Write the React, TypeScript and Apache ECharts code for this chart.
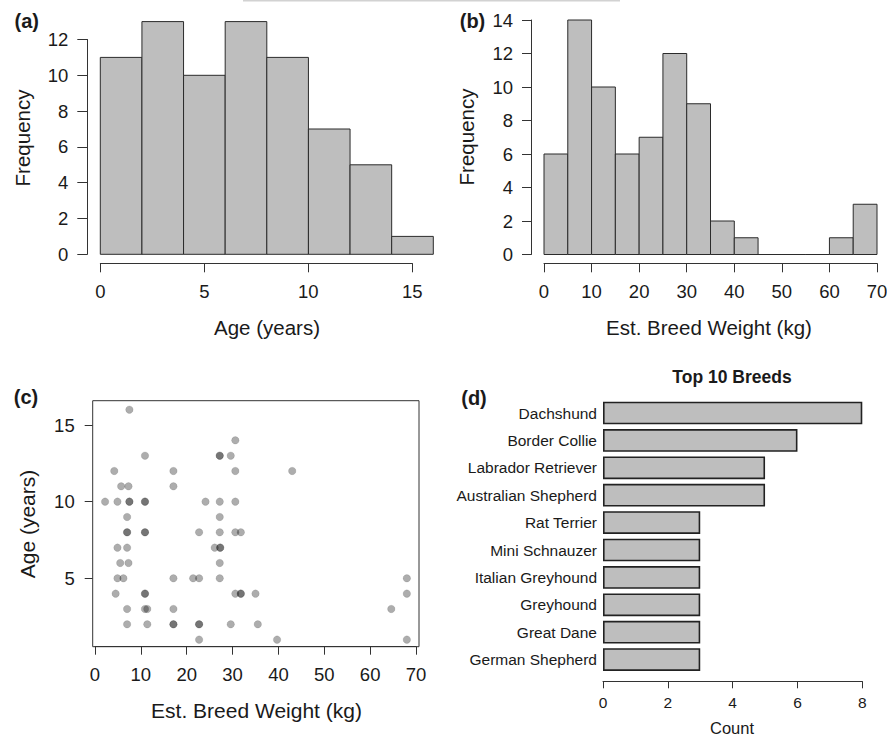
import React, { useEffect, useRef } from 'react';
import * as echarts from 'echarts';

// ---------- data ----------
const ageBreaks = [0, 2, 4, 6, 8, 10, 12, 14, 16];
const ageCounts = [11, 13, 10, 13, 11, 7, 5, 1];

const weightBreaks = [0, 5, 10, 15, 20, 25, 30, 35, 40, 45, 50, 55, 60, 65, 70];
const weightCounts = [6, 14, 10, 6, 7, 12, 9, 2, 1, 0, 0, 0, 1, 3];

// scatter: estimated breed weight (kg) vs age (years), paired by index
const scatterWeight = [
  7.5,
  30.6,
  10.9, 27.2, 27.2, 29.6,
  4.2, 17.1, 30.6, 43.0,
  5.7, 7.3, 17.1,
  2.2, 4.9, 7.5, 7.5, 10.9, 10.9, 24.1, 27.2, 30.6,
  7.0, 27.2,
  7.0, 7.0, 10.9, 10.9, 22.7, 27.2, 30.6, 31.8,
  4.9, 7.0, 26.1, 27.3, 27.3,
  5.5, 7.3, 27.2,
  4.9, 6.2, 17.1, 21.4, 22.7, 27.2, 68.0,
  4.5, 10.9, 10.9, 30.6, 31.8, 31.8, 35.0, 68.0,
  7.0, 10.9, 11.4, 17.1, 64.6,
  7.0, 11.4, 17.1, 17.1, 22.7, 22.7, 29.6, 35.5,
  22.7, 39.7, 68.0,
];
const scatterAge = [
  16,
  14,
  13, 13, 13, 13,
  12, 12, 12, 12,
  11, 11, 11,
  10, 10, 10, 10, 10, 10, 10, 10, 10,
  9, 9,
  8, 8, 8, 8, 8, 8, 8, 8,
  7, 7, 7, 7, 7,
  6, 6, 6,
  5, 5, 5, 5, 5, 5, 5,
  4, 4, 4, 4, 4, 4, 4, 4,
  3, 3, 3, 3, 3,
  2, 2, 2, 2, 2, 2, 2, 2,
  1, 1, 1,
];

const breeds = [
  'Dachshund',
  'Border Collie',
  'Labrador Retriever',
  'Australian Shepherd',
  'Rat Terrier',
  'Mini Schnauzer',
  'Italian Greyhound',
  'Greyhound',
  'Great Dane',
  'German Shepherd',
];
const breedCounts = [8, 6, 5, 5, 3, 3, 3, 3, 3, 3];

// ---------- styling ----------
const FONT = 'Liberation Sans, Arial, Helvetica, sans-serif';
const INK = '#1a1a1a';
const AXIS = '#333333';
const BAR_FILL = '#bebebe';
const BAR_EDGE = '#2b2b2b';

const histRender = (params: any, api: any) => {
  const x0 = api.value(0);
  const x1 = api.value(1);
  const c = api.value(2);
  const tl = api.coord([x0, c]);
  const br = api.coord([x1, 0]);
  return {
    type: 'rect',
    shape: { x: tl[0], y: tl[1], width: br[0] - tl[0], height: br[1] - tl[1] },
    style: { fill: BAR_FILL, stroke: BAR_EDGE, lineWidth: 1 },
  };
};

const hiddenAxis = (gridIndex: number, min: number, max: number) => ({
  gridIndex,
  type: 'value',
  show: false,
  min,
  max,
});

const tickAxis = (
  gridIndex: number,
  min: number,
  max: number,
  interval: number,
  position: string,
  opts: any = {}
) => ({
  gridIndex,
  type: 'value',
  position,
  min,
  max,
  interval,
  axisLine: { show: opts.line !== false, lineStyle: { color: AXIS, width: 1 } },
  axisTick: { show: true, inside: false, length: opts.tickLen ?? 9, lineStyle: { color: AXIS, width: 1 } },
  axisLabel: {
    show: true,
    margin: opts.margin ?? 19,
    fontSize: opts.fontSize ?? 18.5,
    fontFamily: FONT,
    color: INK,
    showMinLabel: true,
    showMaxLabel: true,
  },
  splitLine: { show: false },
});

const grid = (left: number, top: number, width: number, height: number, extra: any = {}) => ({
  left,
  top,
  width,
  height,
  outerBoundsMode: 'none',
  containLabel: false,
  ...extra,
});

const label = (text: string, x: number, y: number, size: number, bold = false, rotate = false) => ({
  type: 'text',
  x,
  y,
  rotation: rotate ? Math.PI / 2 : 0,
  style: {
    text,
    fill: INK,
    font: `${bold ? 'bold ' : ''}${size}px ${FONT}`,
    align: 'center',
    verticalAlign: 'middle',
  },
  silent: true,
});

export default function App() {
  const ref = useRef<HTMLDivElement>(null);

  useEffect(() => {
    document.body.style.margin = '0';
    if (!ref.current) return;
    const chart = echarts.init(ref.current, undefined, { renderer: 'svg' });

    const ageData = ageCounts.map((c, i) => [ageBreaks[i], ageBreaks[i + 1], c]);
    const weightData = weightCounts.map((c, i) => [weightBreaks[i], weightBreaks[i + 1], c]);
    const scatterData = scatterWeight.map((w, i) => [w, scatterAge[i]]);

    const option: any = {
      animation: false,
      backgroundColor: '#ffffff',
      textStyle: { fontFamily: FONT },
      grid: [
        grid(100.3, 21.6, 333, 232.7), // 0 (a) data
        grid(100.3, 262.3, 312, 1), // 1 (a) x axis
        grid(87.3, 39.5, 1, 214.8), // 2 (a) y axis
        grid(544, 20, 333, 234.5), // 3 (b) data
        grid(544, 262.3, 333, 1), // 4 (b) x axis
        grid(531, 20, 1, 234.5), // 5 (b) y axis
        grid(92.7, 400.7, 326.3, 246, { show: true, borderColor: AXIS, borderWidth: 1, backgroundColor: 'transparent' }), // 6 (c) data
        grid(95, 645.7, 321, 1), // 7 (c) x axis
        grid(92.7, 425, 1, 153.3), // 8 (c) y axis
        grid(603, 399.3, 259.3, 274), // 9 (d)
      ],
      xAxis: [
        hiddenAxis(0, 0, 16),
        tickAxis(1, 0, 15, 5, 'bottom'),
        hiddenAxis(2, 0, 1),
        hiddenAxis(3, 0, 70),
        tickAxis(4, 0, 70, 10, 'bottom'),
        hiddenAxis(5, 0, 1),
        hiddenAxis(6, -0.5, 70.65),
        tickAxis(7, 0, 70, 10, 'bottom', { tickLen: 8, margin: 18 }),
        hiddenAxis(8, 0, 1),
        {
          ...tickAxis(9, 0, 8, 2, 'bottom', { tickLen: 7, margin: 13, fontSize: 15.5 }),
          offset: 8,
        },
      ],
      yAxis: [
        hiddenAxis(0, 0, 13),
        hiddenAxis(1, 0, 1),
        tickAxis(2, 0, 12, 2, 'left', { tickLen: 10 }),
        hiddenAxis(3, 0, 14),
        hiddenAxis(4, 0, 1),
        tickAxis(5, 0, 14, 2, 'left', { tickLen: 9, margin: 18 }),
        hiddenAxis(6, 0.54, 16.585),
        hiddenAxis(7, 0, 1),
        tickAxis(8, 5, 15, 5, 'left', { tickLen: 8, margin: 18, line: false }),
        {
          gridIndex: 9,
          type: 'category',
          data: breeds,
          inverse: true,
          axisLine: { show: false },
          axisTick: { show: false },
          axisLabel: { margin: 6, fontSize: 15.5, fontFamily: FONT, color: INK },
          splitLine: { show: false },
        },
      ],
      series: [
        {
          type: 'custom',
          xAxisIndex: 0,
          yAxisIndex: 0,
          renderItem: histRender,
          encode: { x: [0, 1], y: 2 },
          data: ageData,
          silent: true,
        },
        {
          type: 'custom',
          xAxisIndex: 3,
          yAxisIndex: 3,
          renderItem: histRender,
          encode: { x: [0, 1], y: 2 },
          data: weightData,
          silent: true,
        },
        {
          type: 'scatter',
          xAxisIndex: 6,
          yAxisIndex: 6,
          symbol: 'circle',
          symbolSize: 7.5,
          data: scatterData,
          itemStyle: {
            color: 'rgba(0,0,0,0.32)',
            borderColor: 'rgba(0,0,0,0.12)',
            borderWidth: 0.8,
            opacity: 1,
          },
          silent: true,
        },
        {
          type: 'bar',
          xAxisIndex: 9,
          yAxisIndex: 9,
          data: breedCounts,
          barCategoryGap: '17%',
          itemStyle: { color: BAR_FILL, borderColor: '#222222', borderWidth: 1.6 },
          silent: true,
        },
      ],
      graphic: [
        {
          type: 'rect',
          shape: { x: 243, y: 0, width: 377, height: 1.5 },
          style: { fill: '#d2d2d2' },
          silent: true,
        },
        label('(a)', 26.7, 21, 20, true),
        label('(b)', 472.5, 21, 20, true),
        label('(c)', 26, 397, 20, true),
        label('(d)', 474, 398, 20, true),
        label('Frequency', 22, 138, 20.5, false, true),
        label('Frequency', 466, 137, 20.5, false, true),
        label('Age (years)', 267, 327, 20.5),
        label('Est. Breed Weight (kg)', 709, 327, 20.5),
        label('Age (years)', 27, 524, 21, false, true),
        label('Est. Breed Weight (kg)', 256.5, 710, 21),
        label('Top 10 Breeds', 732, 377, 17.5, true),
        label('Count', 732, 728, 16.5),
      ],
    };

    chart.setOption(option);
    return () => {
      chart.dispose();
    };
  }, []);

  return (
    <div
      ref={ref}
      style={{ position: 'absolute', left: 0, top: 0, width: 887, height: 739, background: '#ffffff' }}
    />
  );
}
